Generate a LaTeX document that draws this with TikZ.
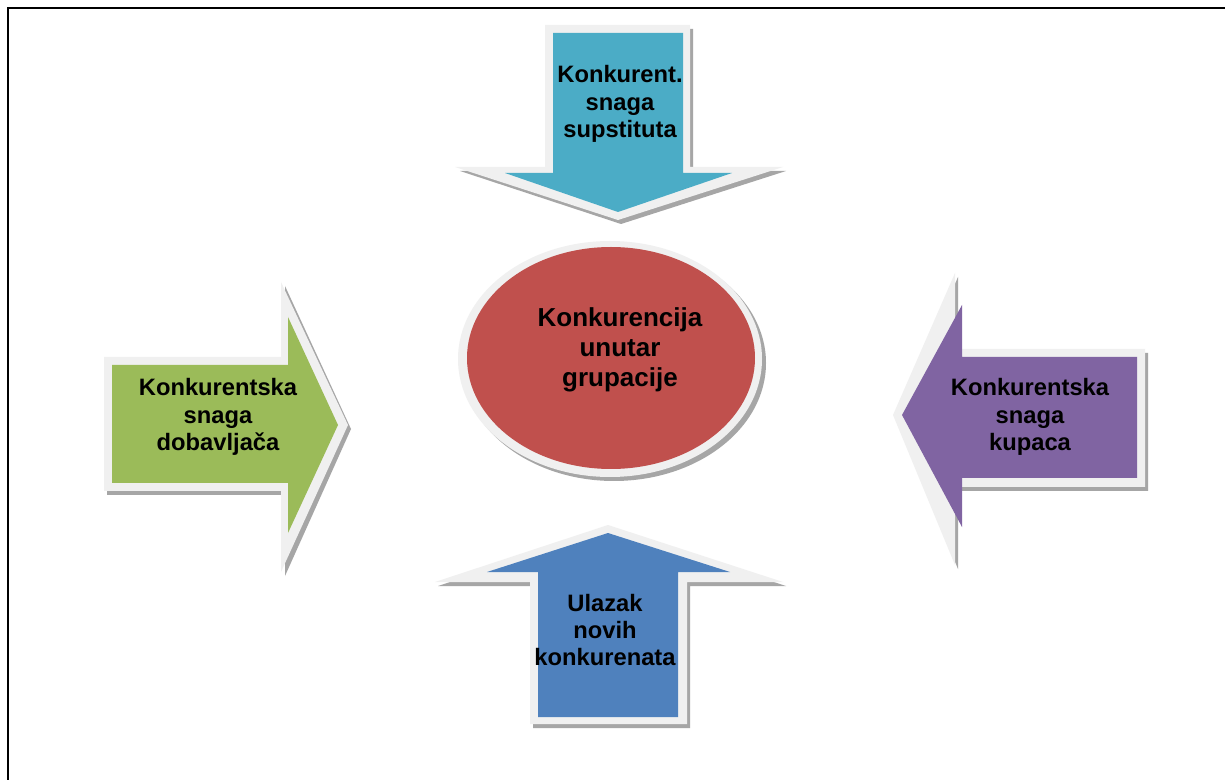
\documentclass[tikz,border=0pt]{standalone}
\usepackage{fontspec}
\setmainfont{Liberation Sans}
\usepackage{tikz}

\definecolor{rim}{HTML}{F0F0F0}
\definecolor{shadowgray}{HTML}{A6A6A6}
\definecolor{teal}{HTML}{4BACC6}
\definecolor{leaf}{HTML}{9BBB59}
\definecolor{plum}{HTML}{8064A2}
\definecolor{sea}{HTML}{4F81BD}
\definecolor{brick}{HTML}{C0504D}

\tikzset{
  rimfill/.style={fill=rim},
  shadowfill/.style={fill=shadowgray},
  lbl/.style={font=\bfseries\fontsize{17.8}{20.5}\selectfont, align=center, text=black},
  biglbl/.style={font=\bfseries\fontsize{19.5}{22.5}\selectfont, align=center, text=black}
}

\begin{document}
\begin{tikzpicture}[x=0.75pt,y=-0.75pt]
\useasboundingbox (0,0) rectangle (1225,780);
\fill[white] (0,0) rectangle (1225,780);
\draw[black,line width=2pt] (8,780) -- (8,8) -- (1225,8);

% top arrow
\fill[shadowfill] (548,29) -- (693,29) -- (693,171) -- (786,171) -- (621,224) -- (460,171) -- (548,171) -- cycle;
\fill[rimfill] (545,25) -- (690,25) -- (690,167) -- (783,167) -- (618,220) -- (455,167) -- (545,167) -- cycle;
\fill[teal] (553,33) -- (683,33) -- (683,173) -- (732,173) -- (618,212) -- (505,173) -- (553,173) -- cycle;
\node[lbl] (substitutes) at (620,104) {Konkurent.\\snaga\\supstituta};

% left arrow
\fill[shadowfill] (107,361) -- (285,361) -- (285,286) -- (351,429) -- (285,576) -- (285,495) -- (107,495) -- cycle;
\fill[rimfill] (104,357) -- (281,357) -- (281,282) -- (348,425) -- (281,572) -- (281,491) -- (104,491) -- cycle;
\fill[leaf] (112,365) -- (288,365) -- (288,317) -- (338,425) -- (288,533) -- (288,483) -- (112,483) -- cycle;
\node[lbl] (suppliers) at (218,417) {Konkurentska\\snaga\\dobavljača};

% right arrow
\fill[shadowfill] (1148,353) -- (958,353) -- (958,277) -- (896,419) -- (958,569) -- (958,491) -- (1148,491) -- cycle;
\fill[rimfill] (1145,349) -- (955,349) -- (955,273) -- (893,415) -- (955,565) -- (955,487) -- (1145,487) -- cycle;
\fill[plum] (1137,357) -- (962,357) -- (962,305) -- (902,415) -- (962,527) -- (962,478) -- (1137,478) -- cycle;
\node[lbl] (buyers) at (1030,417) {Konkurentska\\snaga\\kupaca};

% bottom arrow
\fill[shadowfill] (533,728) -- (690,728) -- (690,586) -- (786,586) -- (611,529) -- (438,586) -- (533,586) -- cycle;
\fill[rimfill] (530,724) -- (687,724) -- (687,582) -- (783,582) -- (608,525) -- (435,582) -- (530,582) -- cycle;
\fill[sea] (538,717) -- (678,717) -- (678,572) -- (730,572) -- (608,533) -- (487,572) -- (538,572) -- cycle;
\node[lbl] (entrants) at (605,630) {Ulazak\\novih\\konkurenata};

% centre
\fill[shadowfill] (614,363) ellipse [x radius=152, y radius=118];
\fill[rimfill] (610,359) ellipse [x radius=152, y radius=118];
\fill[brick] (611,358) ellipse [x radius=144, y radius=111];
\node[biglbl] (rivalry) at (620,350) {Konkurencija\\unutar\\grupacije};

\end{tikzpicture}
\end{document}
